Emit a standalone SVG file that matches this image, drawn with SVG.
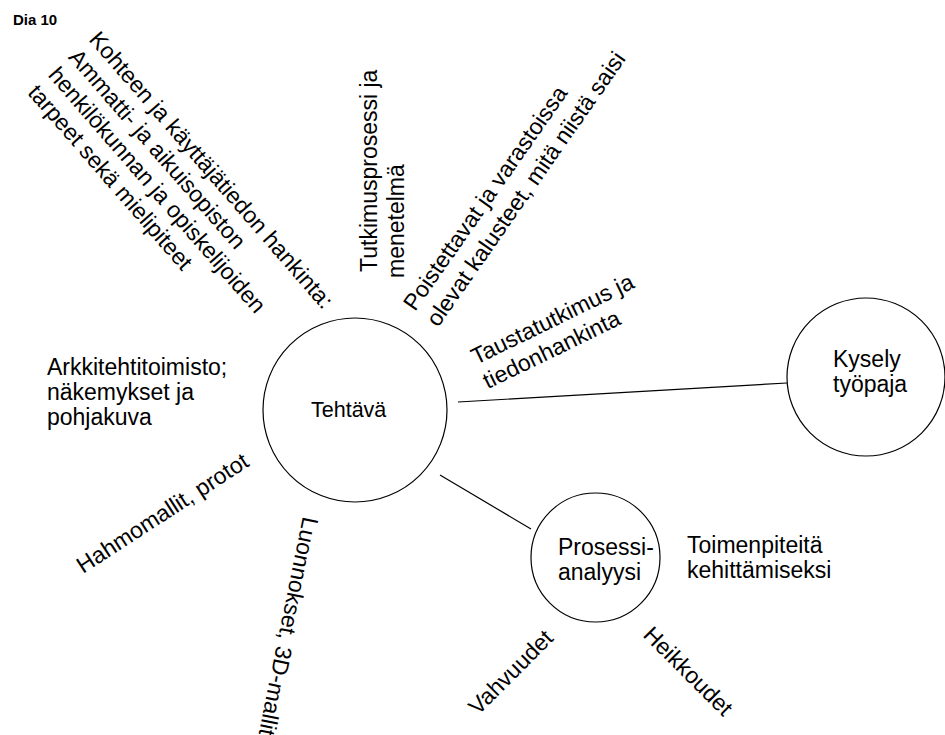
<svg xmlns="http://www.w3.org/2000/svg" width="945" height="735" viewBox="0 0 945 735">
<style>
text{font-family:"Liberation Sans",Arial,sans-serif;font-size:23px;fill:#000}
.title{font-size:15px;font-weight:bold}
.node{fill:#fff;stroke:#000;stroke-width:1.2}
.conn{stroke:#000;stroke-width:1.2;fill:none}
</style>
<rect width="945" height="735" fill="#fff"/>
<text class="title" x="13" y="25">Dia 10</text>
<g id="connectors">
<line class="conn" x1="458" y1="402" x2="787" y2="383"/>
<line class="conn" x1="440" y1="475" x2="531" y2="529"/>
</g>
<g id="tehtava">
<circle class="node" cx="355" cy="410" r="92"/>
<text x="311" y="417" style="font-size:21.5px">Tehtävä</text>
</g>
<g id="kysely">
<circle class="node" cx="866" cy="377" r="79"/>
<text x="833" y="367">Kysely</text>
<text x="833" y="392">työpaja</text>
</g>
<g id="prosessi">
<circle class="node" cx="595.5" cy="557.5" r="64.5"/>
<text x="558" y="555">Prosessi-</text>
<text x="558" y="580">analyysi</text>
</g>
<g id="kohteen" transform="translate(88,40) rotate(49)">
<text x="0" y="0">Kohteen ja käyttäjätiedon hankinta:</text>
<text x="0" y="27">Ammatti- ja aikuisopiston</text>
<text x="0" y="54">henkilökunnan ja opiskelijoiden</text>
<text x="0" y="81">tarpeet sekä mielipiteet</text>
</g>
<g id="tutkimus" transform="translate(377,272) rotate(-90)">
<text x="0" y="0">Tutkimusprosessi ja</text>
<text x="-6" y="27">menetelmä</text>
</g>
<g id="poistettavat" transform="translate(415,312) rotate(-55)">
<text x="0" y="0">Poistettavat ja varastoissa</text>
<text x="0" y="28">olevat kalusteet, mitä niistä saisi</text>
</g>
<g id="tausta" transform="translate(476,365) rotate(-26)">
<text x="0" y="0">Taustatutkimus ja</text>
<text x="0" y="27">tiedonhankinta</text>
</g>
<g id="arkkitehti">
<text x="47" y="375">Arkkitehtitoimisto;</text>
<text x="47" y="400">näkemykset ja</text>
<text x="47" y="425">pohjakuva</text>
</g>
<g id="hahmo" transform="translate(83,574) rotate(-33)">
<text x="0" y="0">Hahmomallit, protot</text>
</g>
<g id="luonnokset" transform="translate(303,516) rotate(101.5)">
<text x="0" y="0">Luonnokset, 3D-mallit</text>
</g>
<g id="toimenpiteita">
<text x="687" y="553">Toimenpiteitä</text>
<text x="687" y="578">kehittämiseksi</text>
</g>
<g id="vahvuudet" transform="translate(478,716) rotate(-45)">
<text x="0" y="0">Vahvuudet</text>
</g>
<g id="heikkoudet" transform="translate(642,636) rotate(45)">
<text x="0" y="0">Heikkoudet</text>
</g>
</svg>
